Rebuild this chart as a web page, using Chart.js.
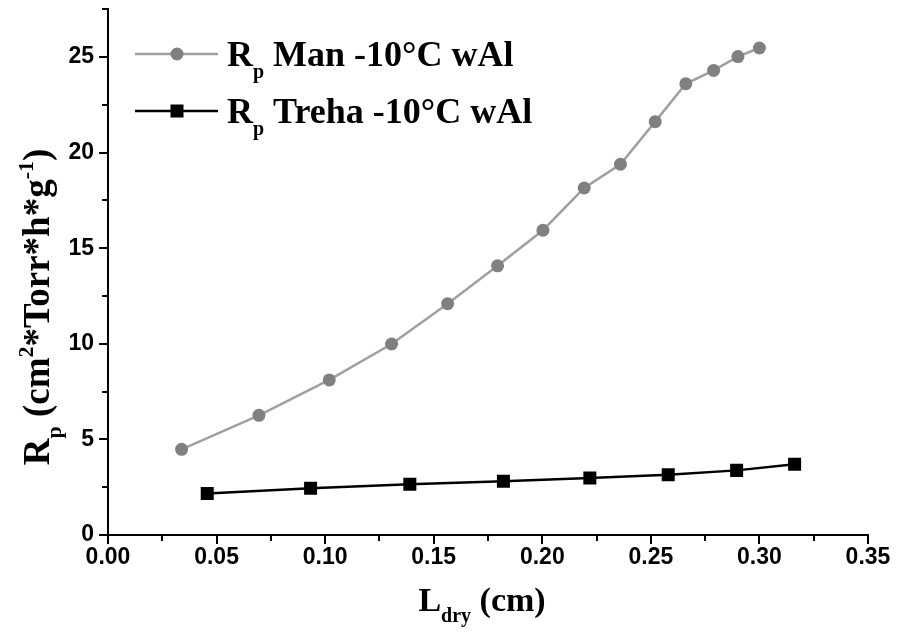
<!DOCTYPE html>
<html><head><meta charset="utf-8">
<script src="https://cdn.jsdelivr.net/npm/chart.js@4.4.0/dist/chart.umd.min.js"></script>
<style>html,body{margin:0;padding:0;background:#fff}#wrap{width:900px;height:632px;position:relative}</style>
</head><body><div id="wrap"><canvas id="c" width="900" height="632"></canvas></div>
<script>
// ---- data ----
const manX   = [0.0339, 0.0695, 0.1019, 0.1306, 0.1564, 0.1794, 0.2003, 0.2193, 0.2360, 0.2520, 0.2661, 0.2789, 0.2901, 0.3000];
const manY   = [4.48, 6.26, 8.11, 9.99, 12.10, 14.08, 15.94, 18.15, 19.39, 21.62, 23.60, 24.30, 25.02, 25.47];
const trehaX = [0.0457, 0.0933, 0.1390, 0.1821, 0.2219, 0.2580, 0.2895, 0.3162];
const trehaY = [2.17, 2.44, 2.65, 2.81, 2.98, 3.15, 3.38, 3.70];
const seriesNames = ['Rp Man -10°C wAl', 'Rp Treha -10°C wAl'];
const xMajor = [0.00, 0.05, 0.10, 0.15, 0.20, 0.25, 0.30, 0.35];
const xMinor = [0.025, 0.075, 0.125, 0.175, 0.225, 0.275, 0.325];
const yMajor = [0, 5, 10, 15, 20, 25];
const yMinor = [2.5, 7.5, 12.5, 17.5, 22.5, 27.5];
const xTickLabels = ['0.00', '0.05', '0.10', '0.15', '0.20', '0.25', '0.30', '0.35'];
const yTickLabels = ['0', '5', '10', '15', '20', '25'];

const SERIF = '"Liberation Serif", "Times New Roman", serif';
const SANS = '"Liberation Sans", Arial, sans-serif';

function hasFont(name) {
  const c = document.createElement('canvas').getContext('2d');
  c.font = 'bold 40px monospace';
  const w1 = c.measureText('0.05 wAl').width;
  c.font = 'bold 40px "' + name + '", monospace';
  return Math.abs(c.measureText('0.05 wAl').width - w1) > 0.5;
}
const narrow = hasFont('Liberation Sans Narrow');
const tickFont = narrow
  ? { family: '"Liberation Sans Narrow", ' + SANS, weight: 'bold', size: 27 }
  : { family: SANS, weight: 'bold', size: 23 };

function drawRich(ctx, pieces, x, y, mainSize) {
  let cx = x;
  pieces.forEach(p => {
    const size = p.s === 'n' ? mainSize : p.size;
    ctx.font = 'bold ' + size + 'px ' + SERIF;
    const dy = p.s === 'sub' ? p.dy : (p.s === 'sup' ? -p.dy : 0);
    ctx.fillText(p.t, cx, y + dy);
    cx += ctx.measureText(p.t).width;
  });
  return cx - x;
}
function richWidth(ctx, pieces, mainSize) {
  let w = 0;
  pieces.forEach(p => {
    const size = p.s === 'n' ? mainSize : p.size;
    ctx.font = 'bold ' + size + 'px ' + SERIF;
    w += ctx.measureText(p.t).width;
  });
  return w;
}

const decorPlugin = {
  id: 'decor',
  afterDraw(chart) {
    const ctx = chart.ctx;
    const xs = chart.scales.x, ys = chart.scales.y;
    ctx.save();
    ctx.strokeStyle = '#000';
    ctx.lineWidth = 2;
    const bottom = chart.chartArea.bottom, left = chart.chartArea.left;
    // x ticks
    xMajor.forEach(v => { const p = Math.round(xs.getPixelForValue(v)); ctx.beginPath(); ctx.moveTo(p, bottom); ctx.lineTo(p, bottom + 9); ctx.stroke(); });
    xMinor.forEach(v => { const p = Math.round(xs.getPixelForValue(v)); ctx.beginPath(); ctx.moveTo(p, bottom); ctx.lineTo(p, bottom + 6); ctx.stroke(); });
    // y ticks
    yMajor.forEach(v => { const p = Math.round(ys.getPixelForValue(v)); ctx.beginPath(); ctx.moveTo(left, p); ctx.lineTo(left - 9, p); ctx.stroke(); });
    yMinor.forEach(v => { const p = Math.round(ys.getPixelForValue(v)); ctx.beginPath(); ctx.moveTo(left, p); ctx.lineTo(left - 6, p); ctx.stroke(); });

    ctx.fillStyle = '#000';
    ctx.textBaseline = 'alphabetic';
    ctx.textAlign = 'left';
    // legend
    const rows = [
      { y: 54, color: '#a0a0a0', fill: '#808080', shape: 'circle', rest: ' Man -10°C wAl' },
      { y: 111, color: '#000', fill: '#000', shape: 'rect', rest: ' Treha -10°C wAl' }
    ];
    rows.forEach(r => {
      ctx.strokeStyle = r.color; ctx.lineWidth = 2.5;
      ctx.beginPath(); ctx.moveTo(135, r.y); ctx.lineTo(218, r.y); ctx.stroke();
      ctx.fillStyle = r.fill;
      if (r.shape === 'circle') { ctx.beginPath(); ctx.arc(177, r.y, 6.5, 0, Math.PI * 2); ctx.fill(); }
      else { ctx.fillRect(177 - 6.5, r.y - 6.5, 13, 13); }
      ctx.fillStyle = '#000';
      drawRich(ctx, [
        { t: 'R', s: 'n' }, { t: 'p', s: 'sub', size: 20, dy: 12 }, { t: r.rest, s: 'n' }
      ], 227, r.y + 12, 36);
    });

    // x title
    const xt = [{ t: 'L', s: 'n' }, { t: 'dry', s: 'sub', size: 20, dy: 11 }, { t: ' (cm)', s: 'n' }];
    const xw = richWidth(ctx, xt, 34);
    drawRich(ctx, xt, (left + chart.chartArea.right) / 2 - xw / 2 - 6, 611, 34);

    // y title
    const yt = [{ t: 'R', s: 'n' }, { t: 'p', s: 'sub', size: 22, dy: 12 }, { t: ' (cm', s: 'n' },
                { t: '2', s: 'sup', size: 22, dy: 16 }, { t: '*Torr*h*g', s: 'n' },
                { t: '-1', s: 'sup', size: 22, dy: 16 }, { t: ')', s: 'n' }];
    const yw = richWidth(ctx, yt, 37);
    ctx.translate(49, 307);
    ctx.rotate(-Math.PI / 2);
    drawRich(ctx, yt, -yw / 2, 0, 37);
    ctx.restore();
  }
};

new Chart(document.getElementById('c'), {
  type: 'scatter',
  data: {
    datasets: [
      {
        label: seriesNames[0],
        data: manX.map((x, i) => ({ x: x, y: manY[i] })),
        showLine: true,
        borderColor: '#a0a0a0',
        borderWidth: 2.5,
        pointStyle: 'circle',
        pointRadius: 6.5,
        pointHoverRadius: 6.5,
        pointBackgroundColor: '#808080',
        pointBorderColor: '#808080',
        pointBorderWidth: 0
      },
      {
        label: seriesNames[1],
        data: trehaX.map((x, i) => ({ x: x, y: trehaY[i] })),
        showLine: true,
        borderColor: '#000',
        borderWidth: 2.5,
        pointStyle: 'rect',
        pointRadius: 9.2,
        pointHoverRadius: 9.2,
        pointBackgroundColor: '#000',
        pointBorderColor: '#000',
        pointBorderWidth: 0
      }
    ]
  },
  options: {
    responsive: false,
    animation: false,
    layout: { padding: { top: 9, right: 32, left: 0, bottom: 0 } },
    plugins: { legend: { display: false }, tooltip: { enabled: false } },
    scales: {
      x: {
        type: 'linear', min: 0, max: 0.35,
        grid: { display: false, drawTicks: false },
        border: { display: true, color: '#000', width: 2 },
        afterBuildTicks: s => { s.ticks = xMajor.map(v => ({ value: v })); },
        afterFit: s => { s.height = 97; s.paddingLeft = 0; s.paddingRight = 0; },
        ticks: {
          color: '#000', padding: 9, maxRotation: 0, autoSkip: false,
          font: tickFont,
          callback: (v, i) => xTickLabels[i]
        }
      },
      y: {
        type: 'linear', min: 0, max: 27.5,
        grid: { display: false, drawTicks: false },
        border: { display: true, color: '#000', width: 2 },
        afterBuildTicks: s => { s.ticks = yMajor.map(v => ({ value: v })); },
        afterFit: s => { s.width = 108; s.paddingTop = 0; s.paddingBottom = 0; },
        ticks: {
          color: '#000', padding: 14, autoSkip: false,
          font: tickFont,
          callback: (v, i) => yTickLabels[i]
        }
      }
    }
  },
  plugins: [decorPlugin]
});
</script>
</body></html>
